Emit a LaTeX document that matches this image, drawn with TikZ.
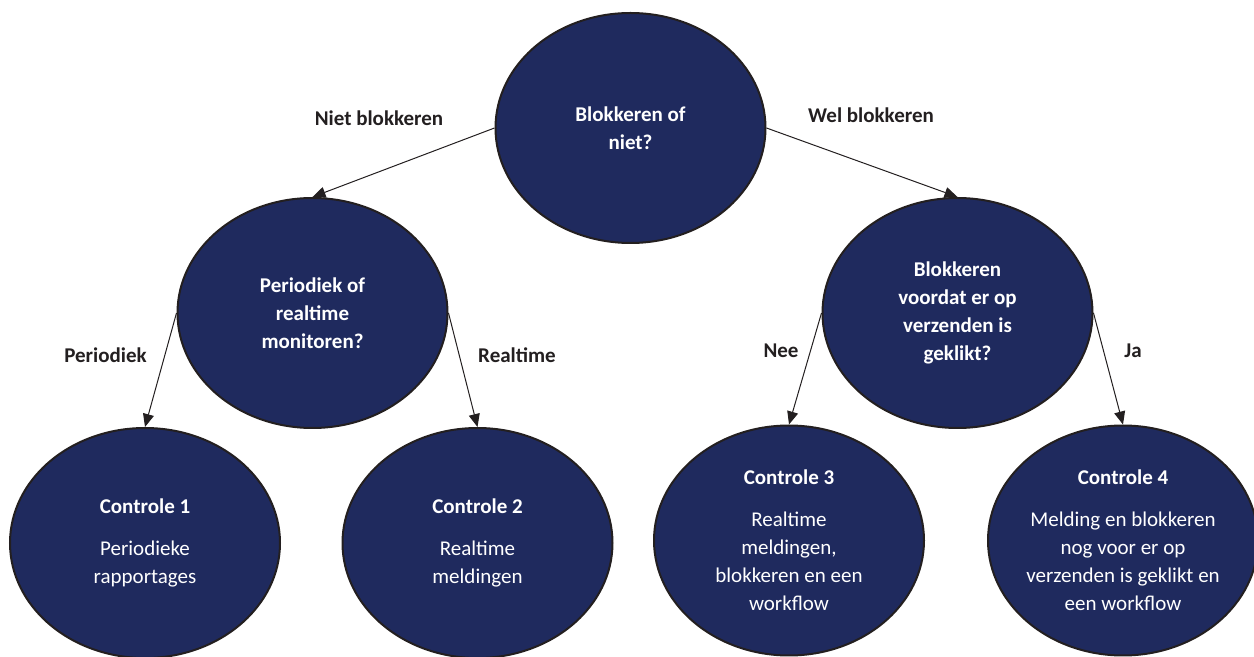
\documentclass[tikz,border=0pt]{standalone}
\usepackage{fontspec}
\setmainfont{Carlito}
\usetikzlibrary{shapes.geometric,arrows.meta}
\definecolor{navyfill}{RGB}{31,42,94}
\definecolor{labelgray}{RGB}{35,31,32}
\tikzset{
  keuze/.style={ellipse, draw=labelgray, line width=1pt, fill=navyfill,
    text=white, font=\fontsize{10.5}{14}\selectfont, align=center,
    minimum width=135pt, minimum height=115pt, inner xsep=-2pt, inner ysep=0pt},
  tak/.style={text=labelgray, font=\fontsize{10.5}{14}\selectfont\bfseries},
  pijl/.style={-{Triangle[length=6.5pt,width=5.5pt]}, line width=0.5pt, draw=labelgray}
}

\begin{document}
\begin{tikzpicture}[x=0.5pt, y=-0.5pt]
  \useasboundingbox (0,0) rectangle (1254,657);

  \node[keuze] (TOP) at (630.5,128) {\textbf{Blokkeren of}\\\textbf{niet?}};
  \node[keuze] (PERIODIEK) at (312.5,313) {\textbf{Periodiek of}\\\textbf{realtime}\\\textbf{monitoren?}};
  \node[keuze] (VOORDAT) at (957.5,313) {\textbf{Blokkeren}\\\textbf{voordat er op}\\\textbf{verzenden is}\\\textbf{geklikt?}};

  \node[keuze] (C1) at (145,543) {\textbf{Controle 1}\\[7pt] Periodieke\\rapportages};
  \node[keuze] (C2) at (477.5,543) {\textbf{Controle 2}\\[7pt] Realtime\\meldingen};
  \node[keuze] (C3) at (789,540.5) {\textbf{Controle 3}\\[7pt] Realtime\\meldingen,\\blokkeren en een\\workflow};
  \node[keuze] (C4) at (1123,540.5) {\textbf{Controle 4}\\[7pt] Melding en blokkeren\\nog voor er op\\verzenden is geklikt en\\een workflow};

  \draw[pijl] (TOP.west) -- (PERIODIEK.north);
  \draw[pijl] (TOP.east) -- (VOORDAT.north);
  \draw[pijl] (PERIODIEK.west) -- (C1.north);
  \draw[pijl] (PERIODIEK.east) -- (C2.north);
  \draw[pijl] (VOORDAT.west) -- (C3.north);
  \draw[pijl] (VOORDAT.east) -- (C4.north);

  \node[tak] (NIET) at (379,118) {Niet blokkeren};
  \node[tak] (WEL) at (871,115) {Wel blokkeren};
  \node[tak] (PER) at (105.5,355) {Periodiek};
  \node[tak] (REAL) at (517,355) {Realtime};
  \node[tak] (NEE) at (781,351) {Nee};
  \node[tak] (JA) at (1133,351) {Ja};
\end{tikzpicture}
\end{document}
